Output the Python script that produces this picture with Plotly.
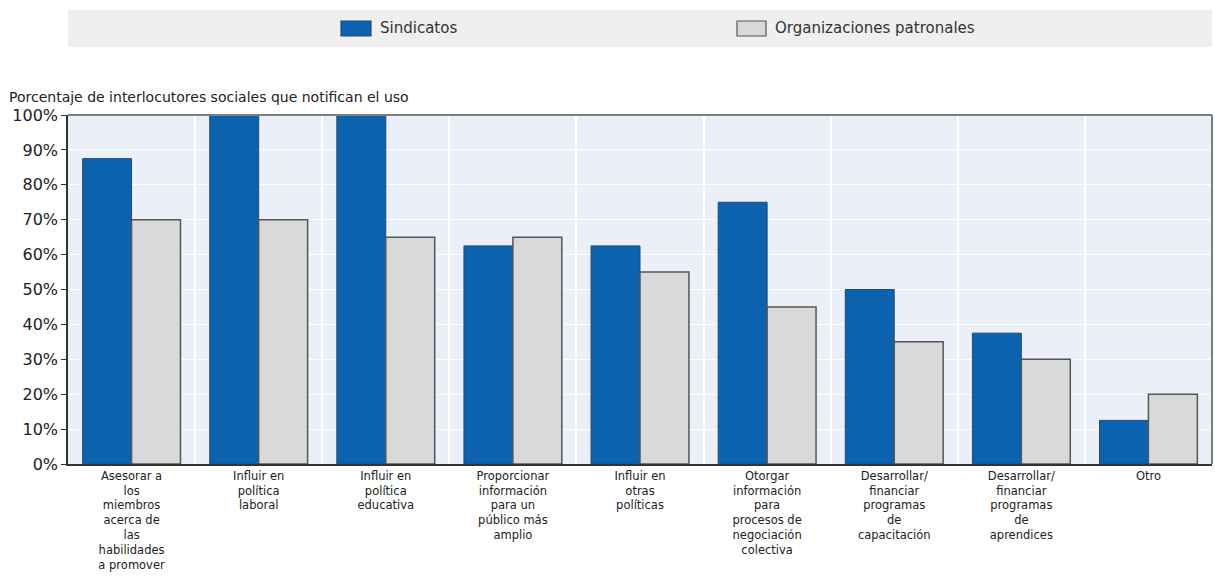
import plotly.graph_objects as go

categories = [
    "Asesorar a<br>los<br>miembros<br>acerca de<br>las<br>habilidades<br>a promover",
    "Influir en<br>política<br>laboral",
    "Influir en<br>política<br>educativa",
    "Proporcionar<br>información<br>para un<br>público más<br>amplio",
    "Influir en<br>otras<br>políticas",
    "Otorgar<br>información<br>para<br>procesos de<br>negociación<br>colectiva",
    "Desarrollar/<br>financiar<br>programas<br>de<br>capacitación",
    "Desarrollar/<br>financiar<br>programas<br>de<br>aprendices",
    "Otro",
]
series_names = ["Sindicatos", "Organizaciones patronales"]
sindicatos = [87.5, 100, 100, 62.5, 62.5, 75, 50, 37.5, 12.5]
patronales = [70, 70, 65, 65, 55, 45, 35, 30, 20]
y_ticks = [0, 10, 20, 30, 40, 50, 60, 70, 80, 90, 100]

FONT = "DejaVu Sans, Liberation Sans, Arial, sans-serif"
W, H = 1215, 583
ML, MR, MT, MB = 68, 3, 115, 119
PW, PH = W - ML - MR, H - MT - MB

BLUE, BLUE_EDGE = "#0b63b0", "#244a75"
GREY, GREY_EDGE = "#d9d9d9", "#555555"


def px_x(px):
    return (px - ML) / PW


def px_y(py):
    return 1 + (MT - py) / PH


fig = go.Figure()
fig.add_trace(go.Bar(
    x=categories, y=sindicatos, name=series_names[0],
    marker=dict(color=BLUE, line=dict(color=BLUE_EDGE, width=1)),
))
fig.add_trace(go.Bar(
    x=categories, y=patronales, name=series_names[1],
    marker=dict(color=GREY, line=dict(color=GREY_EDGE, width=1.5)),
))

# grey legend band
fig.add_shape(type="rect", xref="paper", yref="paper",
              x0=0, x1=1, y0=px_y(47), y1=px_y(10),
              fillcolor="#efefef", line=dict(width=0), layer="below")

# legend entries drawn as swatch + label
legend_items = [
    (series_names[0], 341, 371, BLUE, BLUE_EDGE),
    (series_names[1], 737, 766, GREY, GREY_EDGE),
]
for name, sx0, sx1, fill, edge in legend_items:
    fig.add_shape(type="rect", xref="paper", yref="paper",
                  x0=px_x(sx0), x1=px_x(sx1), y0=px_y(36), y1=px_y(21),
                  fillcolor=fill, line=dict(color=edge, width=1.2))
    fig.add_annotation(text=name, xref="paper", yref="paper",
                       x=px_x(sx1 + 7), y=px_y(28), xanchor="left", yanchor="middle",
                       showarrow=False,
                       font=dict(family=FONT, size=15, color="#333333"))

# top and right frame lines
fig.add_shape(type="line", xref="paper", yref="paper",
              x0=0, x1=1, y0=1, y1=1, line=dict(color="#7d7d7d", width=2))
fig.add_shape(type="line", xref="paper", yref="paper",
              x0=1, x1=1, y0=0, y1=1, line=dict(color="#7d7d7d", width=2))

fig.add_annotation(text="Porcentaje de interlocutores sociales que notifican el uso",
                   xref="paper", yref="paper", x=px_x(7), y=px_y(97),
                   xanchor="left", yanchor="middle", showarrow=False,
                   font=dict(family=FONT, size=14, color="#222222"))

fig.update_layout(
    width=W, height=H,
    margin=dict(l=ML, r=MR, t=MT, b=MB),
    paper_bgcolor="white",
    plot_bgcolor="#ebf0f8",
    barmode="group",
    bargap=0.23,
    bargroupgap=0,
    font=dict(family=FONT, color="#222222"),
    showlegend=False,
    xaxis=dict(
        type="category", tickson="boundaries", showgrid=True,
        gridcolor="white", gridwidth=2, ticks="", showline=True,
        linecolor="#333333", linewidth=1.5,
        tickfont=dict(family=FONT, size=11.5, color="#222222"),
    ),
    yaxis=dict(
        range=[0, 100], tickvals=y_ticks, ticktext=[f"{v}%" for v in y_ticks],
        showgrid=True, gridcolor="white", gridwidth=1,
        ticks="outside", ticklen=5, tickcolor="#333333",
        showline=True, linecolor="#333333", linewidth=1.5,
        tickfont=dict(family=FONT, size=16, color="#222222"),
        zeroline=False,
    ),
)

fig.write_html("out.html")
